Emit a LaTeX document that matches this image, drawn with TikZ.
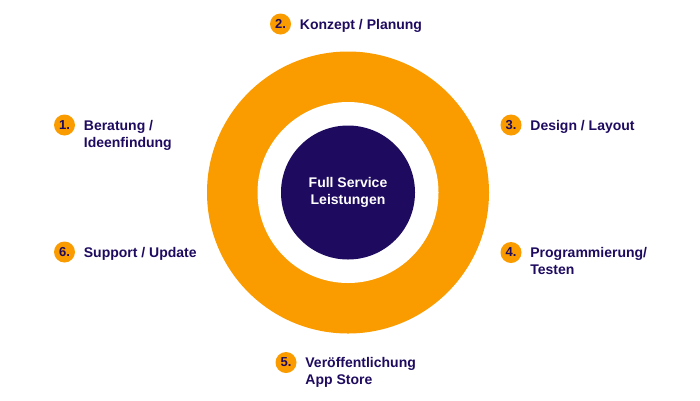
\documentclass[tikz,border=0pt]{standalone}
\usepackage{fontspec}
\setmainfont{Liberation Sans}
\usetikzlibrary{positioning}

\definecolor{ringorange}{RGB}{250,155,0}
\definecolor{deeppurple}{RGB}{30,10,95}

\newcommand{\twolines}[2]{\begin{tabular}[t]{@{}l@{}}#1\\#2\end{tabular}}

\begin{document}
\begin{tikzpicture}[x=1pt, y=-1pt]
    \tikzstyle{badgebox}=[circle, fill=ringorange, minimum size=21pt, inner sep=0pt, text=deeppurple, font=\fontsize{13}{15}\selectfont\bfseries]
    \tikzstyle{labelbox}=[anchor=base west, inner sep=0pt, text=deeppurple, font=\fontsize{14}{17}\selectfont\bfseries]

    \useasboundingbox (0,0) rectangle (700,400);

    % rings
    \node[circle, fill=ringorange, minimum size=282pt, inner sep=0pt] (ring) at (348,192.5) {};
    \node[circle, fill=white, minimum size=181pt, inner sep=0pt] (gap) at (ring) {};
    \node[circle, fill=deeppurple, minimum size=134pt, inner sep=0pt, align=center, text=white, font=\fontsize{14}{17}\selectfont\bfseries] (core) at (ring) {Full Service\\Leistungen};

    % steps
    \node[badgebox] (badge1) at (64.5,125) {1.};
    \node[badgebox] (badge2) at (280.5,24) {2.};
    \node[badgebox] (badge3) at (511,125) {3.};
    \node[badgebox] (badge4) at (511,252.5) {4.};
    \node[badgebox] (badge5) at (286,362.5) {5.};
    \node[badgebox] (badge6) at (64.5,252) {6.};

    \node[labelbox] (step1) at ([xshift=8.5pt, yshift=-5pt]badge1.east) {\twolines{Beratung /}{Ideenfindung}};
    \node[labelbox] (step2) at ([xshift=8.5pt, yshift=-5pt]badge2.east) {Konzept / Planung};
    \node[labelbox] (step3) at ([xshift=8.5pt, yshift=-5pt]badge3.east) {Design / Layout};
    \node[labelbox] (step4) at ([xshift=8.5pt, yshift=-5pt]badge4.east) {\twolines{Programmierung/}{Testen}};
    \node[labelbox] (step5) at ([xshift=8.5pt, yshift=-5pt]badge5.east) {\twolines{Veröffentlichung}{App Store}};
    \node[labelbox] (step6) at ([xshift=8.5pt, yshift=-5pt]badge6.east) {Support / Update};
\end{tikzpicture}
\end{document}
